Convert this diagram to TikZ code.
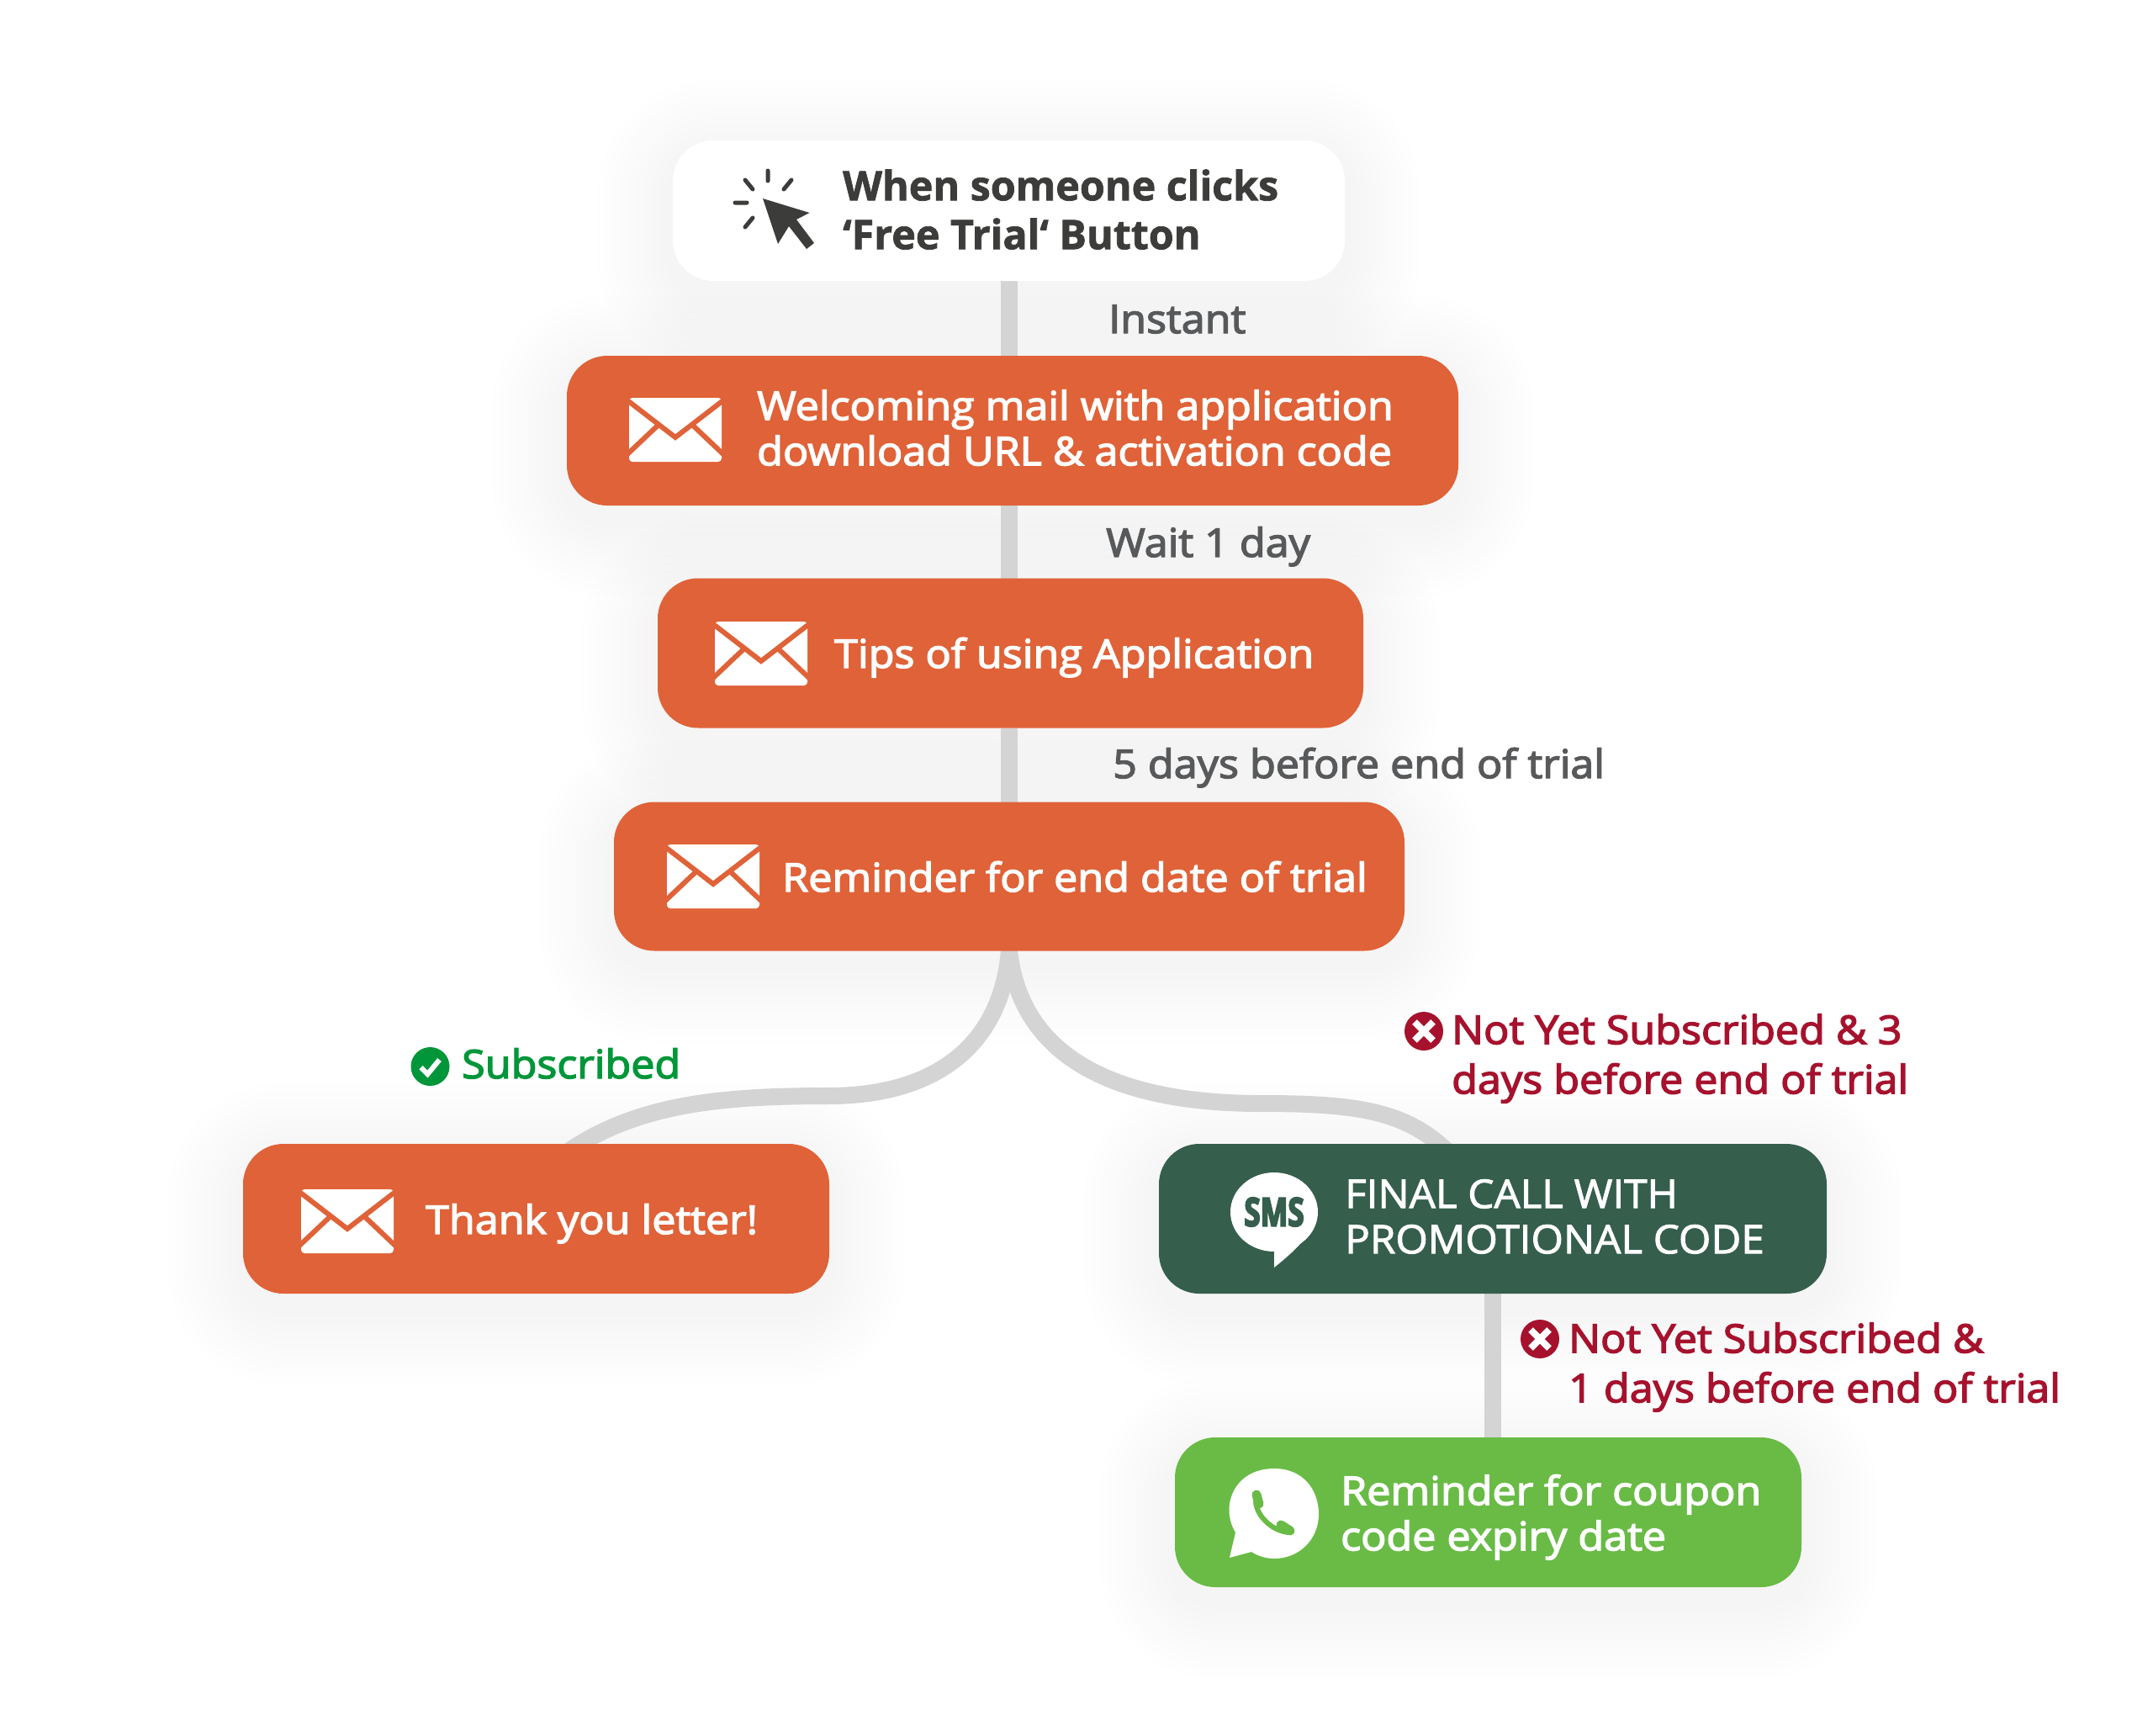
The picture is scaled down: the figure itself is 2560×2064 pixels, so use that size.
\documentclass[tikz,border=0pt]{standalone}
\usepackage{fontspec}
\setmainfont{Open Sans}[BoldFeatures={FakeBold=1.5}]
\newfontfamily\semifont{Open Sans}[FakeBold=3,FakeStretch=1.069]
\newfontfamily\capsfont{Open Sans}[FakeBold=2,FakeStretch=1.05]
\newfontfamily\smsfont{Open Sans}[FakeStretch=0.74,BoldFeatures={FakeBold=4}]
\usetikzlibrary{calc}
\definecolor{boxorange}{HTML}{E06238}
\definecolor{boxdark}{HTML}{355E4D}
\definecolor{boxgreen}{HTML}{69BB46}
\definecolor{linkgrey}{HTML}{D4D4D4}
\definecolor{inkdark}{HTML}{3C3C3B}
\definecolor{inkgrey}{HTML}{58595B}
\definecolor{inkred}{HTML}{A6122D}
\definecolor{inkgreen}{HTML}{009639}
\pgfdeclarelayer{shade}
\pgfdeclarelayer{conn}
\pgfsetlayers{shade,conn,main}
\tikzset{
  x=1pt,y=-1pt,
  box/.style={rounded corners=48pt,inner sep=0pt,outer sep=0pt},
  link/.style={draw=linkgrey,line width=20pt},
  headtext/.style={inner sep=0pt,align=left,text=inkdark,font=\fontsize{48.4}{58}\selectfont\bfseries},
  boxtext/.style={inner sep=0pt,align=left,text=white,font=\fontsize{47}{54}\selectfont\semifont},
  capstext/.style={inner sep=0pt,align=left,text=white,font=\fontsize{47}{54}\selectfont\capsfont},
  steplabel/.style={inner sep=0pt,align=left,text=inkgrey,font=\fontsize{47}{58}\selectfont\semifont},
  redlabel/.style={inner sep=0pt,align=left,text=inkred,font=\fontsize{47}{59}\selectfont\semifont},
  greenlabel/.style={inner sep=0pt,align=left,text=inkgreen,font=\fontsize{47}{59}\selectfont\semifont},
  envelope/.pic={
    \fill[white,rounded corners=4pt] (-55,-38) rectangle (55,38);
    \draw[boxorange,line width=6pt] (-57,-35) -- (0,9) -- (57,-35);
    \draw[boxorange,line width=6pt] (-57,29) -- (-20,-6);
    \draw[boxorange,line width=6pt] (57,29) -- (20,-6);
  },
  crossmark/.pic={
    \fill[inkred] (0,0) circle[radius=23];
    \draw[white,line width=8pt] (-11,-11) -- (11,11) (11,-11) -- (-11,11);
  },
  checkmark/.pic={
    \fill[inkgreen] (0,0) circle[radius=23];
    \draw[white,line width=6pt] (-11,1) -- (-3,9) -- (11,-8);
  }
}
\begin{document}
\begin{tikzpicture}
\begin{pgfonlayer}{shade}
  \path[use as bounding box,fill=white] (0,0) rectangle (2560,2064);
\end{pgfonlayer}

% boxes
\node[box,fill=white,minimum width=799pt,minimum height=167pt] (top) at (1199.5,250.5) {};
\node[box,fill=boxorange,minimum width=1060pt,minimum height=178pt] (welc) at (1204,512) {};
\node[box,fill=boxorange,minimum width=839pt,minimum height=178pt] (tips) at (1201.5,776.5) {};
\node[box,fill=boxorange,minimum width=940pt,minimum height=177pt] (rem) at (1200,1042) {};
\node[box,fill=boxorange,minimum width=697pt,minimum height=178pt] (thank) at (637.5,1449) {};
\node[box,fill=boxdark,minimum width=794pt,minimum height=178pt] (sms) at (1775,1449) {};
\node[box,fill=boxgreen,minimum width=745pt,minimum height=178pt] (wapp) at (1769.5,1798) {};

% soft shadows
\begin{pgfonlayer}{shade}
  \foreach \n in {top,welc,tips,rem,thank,sms,wapp}
    \foreach \i in {1,...,10}
      \fill[black,opacity=0.004,rounded corners=48pt+\i*9pt]
        ($(\n.south west)+(-\i*9,\i*9+18)$) rectangle ($(\n.north east)+(\i*9,-\i*9+18)$);
\end{pgfonlayer}

% connectors
\coordinate (thankin) at (677,1368);
\coordinate (smsin) at (1720,1368);
\coordinate (lmid) at (985,1303);
\coordinate (rmid) at (1500,1312);
\begin{pgfonlayer}{conn}
  \draw[link] (top.south) -- (top.south |- welc.north);
  \draw[link] (top.south |- welc.south) -- (top.south |- tips.north);
  \draw[link] (top.south |- tips.south) -- (top.south |- rem.north);
  \draw[link] (rem.south) .. controls (1190,1245) and (1110,1303) .. (lmid)
     .. controls (860,1303) and (760,1312) .. (thankin);
  \draw[link] (rem.south) .. controls (1212,1240) and (1300,1312) .. (rmid)
     .. controls (1610,1312) and (1670,1320) .. (smsin);
  \draw[link] (sms.south) -- (sms.south |- wapp.north);
\end{pgfonlayer}

% texts
\node[headtext,anchor=north west] (ttop) at (1002,197.4) {\strut When someone clicks\\\strut ‘Free Trial‘ Button};
\node[boxtext,anchor=north west] (twelc) at (900,461.2) {\strut Welcoming mail with application\\\strut download URL \& activation code};
\node[boxtext,anchor=base west] (ttips) at (992,794) {Tips of using Application};
\node[boxtext,anchor=base west] (trem) at (930,1060) {Reminder for end date of trial};
\node[boxtext,anchor=base west] (tthank) at (506,1467) {Thank you letter!};
\node[capstext,anchor=north west] (tsms) at (1599,1398.2) {\strut FINAL CALL WITH\\\strut PROMOTIONAL CODE};
\node[boxtext,anchor=north west] (twapp) at (1594,1751.2) {\strut Reminder for coupon\\\strut code expiry date};
\node[steplabel,anchor=base west] (l1) at (1318,396) {Instant};
\node[steplabel,anchor=base west] (l2) at (1315,662) {Wait 1 day};
\node[steplabel,anchor=base west] (l3) at (1323,925) {5 days before end of trial};
\node[greenlabel,anchor=base west] (l4) at (549,1282) {Subscribed};
\node[redlabel,anchor=north west] (l5) at (1726,1199.7) {\strut Not Yet Subscribed \& 3\\\strut days before end of trial};
\node[redlabel,anchor=north west] (l6) at (1865,1566.7) {\strut Not Yet Subscribed \&\\\strut 1 days before end of trial};

% icons
\pic at (803,511) {envelope};
\pic at (905,777) {envelope};
\pic at (848,1042) {envelope};
\pic at (413,1452) {envelope};
\pic at (511.5,1268) {checkmark};
\pic at (1693,1226) {crossmark};
\pic at (1831,1592) {crossmark};

% cursor
\fill[inkdark,line join=round] (907,236) -- (962.5,253) -- (947,261) -- (968,289) -- (959,296) -- (938,269) -- (925,290) -- cycle;
\draw[inkdark,line width=5pt,line cap=round]
  (913,203) -- (913,215)
  (886,214) -- (895,225)
  (941,214) -- (932,225)
  (874,241) -- (888,241)
  (895,259) -- (886,270);

% SMS bubble
\fill[white] (1515,1441) ellipse[x radius=52,y radius=47];
\fill[white] (1515,1480) -- (1515,1507) .. controls (1540,1487) and (1557,1470) .. (1565,1450) -- cycle;
\node[inner sep=0pt,text=boxdark,font=\fontsize{47}{47}\selectfont\smsfont\bfseries] (smsword) at (1515,1441) {SMS};

% WhatsApp
\fill[white]
   (1462,1852) -- (1469,1822) .. controls (1450,1790) and (1468,1746) .. (1515,1746)
   .. controls (1550,1746) and (1568,1772) .. (1568,1800)
   .. controls (1568,1830) and (1545,1853) .. (1515,1853)
   .. controls (1505,1853) and (1496,1850) .. (1488,1845) -- cycle;
\draw[boxgreen,line width=6pt] (1493,1785) .. controls (1494,1802) and (1512,1820) .. (1532,1822);
\draw[boxgreen,line width=11pt,line cap=round] (1494,1777) -- (1497,1788);
\draw[boxgreen,line width=11pt,line cap=round] (1523,1813) -- (1534,1820);
\end{tikzpicture}
\end{document}
